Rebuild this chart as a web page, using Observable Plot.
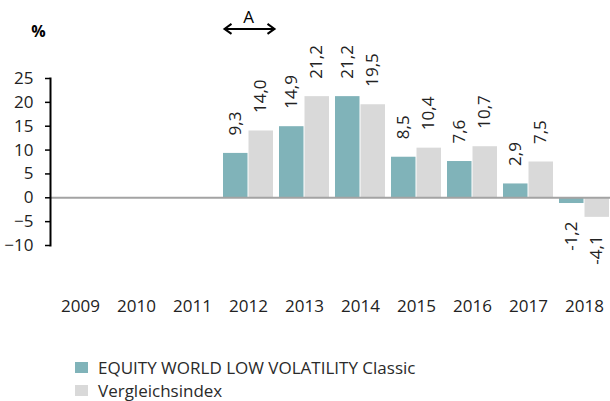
<!DOCTYPE html>
<html><head><meta charset="utf-8">
<script src="https://cdn.jsdelivr.net/npm/d3@7"></script>
<script src="https://cdn.jsdelivr.net/npm/@observablehq/plot@0.6"></script>
<style>
html,body{margin:0;padding:0;background:#fff;}
body{font-family:"Open Sans",sans-serif;color:#222;width:610px;height:401px;overflow:hidden;}
#chart svg{display:block;}
#legend{padding-top:16px;padding-left:75px;font-size:17px;line-height:23px;color:#2a2a2a;}
#legend .item{display:flex;align-items:center;}
#legend .sw{display:inline-block;width:13px;height:11px;margin-right:10px;}
</style></head><body>
<div id="chart"></div>
<div id="legend"></div>
<script>
const years = ["2009","2010","2011","2012","2013","2014","2015","2016","2017","2018"];
const fundValues = [null,null,null,9.3,14.9,21.2,8.5,7.6,2.9,-1.2];
const indexValues = [null,null,null,14.0,21.2,19.5,10.4,10.7,7.5,-4.1];
const seriesNames = ["EQUITY WORLD LOW VOLATILITY Classic","Vergleichsindex"];
const seriesColors = ["#80b3b9","#d9d9d9"];
const yTicks = [-10,-5,0,5,10,15,20,25];
const yUnit = "%";
const annotationYear = "2012";
const annotationLabel = "A";
const annotationLevel = 35.5;

const fund = years.map((year,i)=>({year, value: fundValues[i]})).filter(d=>d.value!=null);
const idx = years.map((year,i)=>({year, value: indexValues[i]})).filter(d=>d.value!=null);
const fmt = d => d.value.toFixed(1).replace(".", ",");

const labelStyle = {x:"year", y:"value", text: fmt, rotate:-90, fill:"#222", fontSize:17};

const chart = Plot.plot({
  width: 610, height: 340,
  marginTop: 78, marginBottom: 95, marginLeft: 50, marginRight: 0,
  style: {fontFamily: '"Open Sans", sans-serif', fontSize: "17px", color: "#222", background: "#fff"},
  x: {domain: years, range: [50, 614], paddingInner: 0.113, paddingOuter: 0.0565},
  y: {domain: [-10, 25]},
  marks: [
    Plot.barY(fund, {x:"year", y:"value", fill: seriesColors[0], insetRight: 25.5}),
    Plot.barY(idx, {x:"year", y:"value", fill: seriesColors[1], insetLeft: 25.5}),
    Plot.ruleY([0], {stroke:"#a3a3a3", strokeWidth:2}),
    Plot.text(fund.filter(d=>d.value>=0), {...labelStyle, textAnchor:"start", dx:-12.5, dy:-18}),
    Plot.text(idx.filter(d=>d.value>=0), {...labelStyle, textAnchor:"start", dx:12.5, dy:-18}),
    Plot.text(fund.filter(d=>d.value<0), {...labelStyle, textAnchor:"end", dx:-12.5, dy:18}),
    Plot.text(idx.filter(d=>d.value<0), {...labelStyle, textAnchor:"end", dx:12.5, dy:18}),
    Plot.axisY(yTicks, {tickSize:5, tickPadding:12, label:null, stroke:"#000", strokeWidth:1.5, fill:"#222", fontSize:17}),
    Plot.axisX({tickSize:0, tickPadding:54, label:null, fill:"#222", fontSize:17}),
    Plot.frame({anchor:"left", stroke:"#000", strokeWidth:2}),
    Plot.text([yUnit], {frameAnchor:"top-left", textAnchor:"middle", dx:-12, dy:-53, fontWeight:"bold", fontSize:16, fill:"#000"}),
    Plot.text([annotationLabel], {x: ()=>annotationYear, y: ()=>annotationLevel, dy:-11, fontSize:17, fill:"#000"})
  ]
});
document.getElementById("chart").appendChild(chart);

// double-headed arrow spanning the annotated year band
const xs = chart.scale("x"), ys = chart.scale("y");
const x0 = xs.apply(annotationYear) + 1.5, x1 = xs.apply(annotationYear) + xs.bandwidth + 1.5;
const ya = ys.apply(annotationLevel) + 1;
const g = d3.select(chart).append("g").attr("stroke","#000").attr("stroke-width",2).attr("fill","none");
g.append("path").attr("d", `M${x0},${ya}H${x1}`);
g.append("path").attr("d", `M${x0+7},${ya-5}L${x0},${ya}L${x0+7},${ya+5}`);
g.append("path").attr("d", `M${x1-7},${ya-5}L${x1},${ya}L${x1-7},${ya+5}`);

const legend = d3.select("#legend");
seriesNames.forEach((name,i)=>{
  const it = legend.append("div").attr("class","item");
  it.append("span").attr("class","sw").style("background", seriesColors[i]);
  it.append("span").text(name);
});
</script>
</body></html>
